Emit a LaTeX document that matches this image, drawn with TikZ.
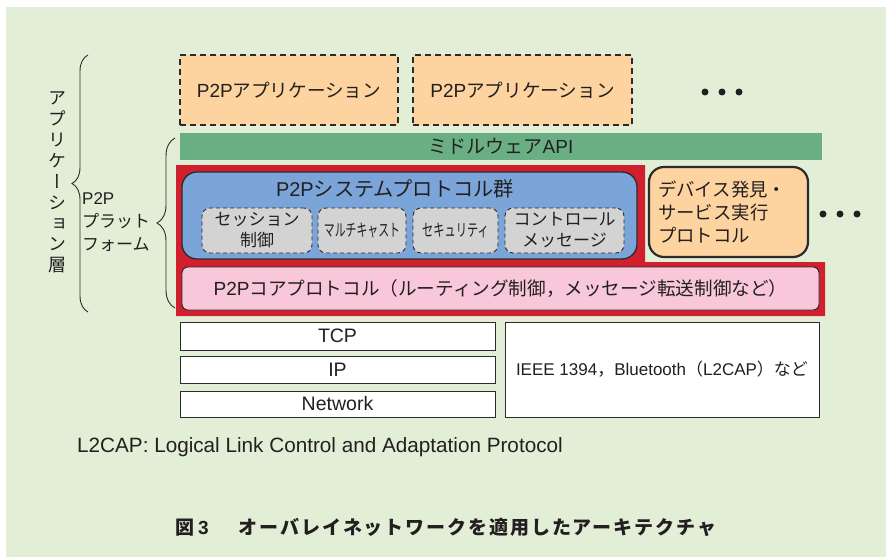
\documentclass[tikz,border=0pt]{standalone}
\usepackage{fontspec}
\usepackage{graphicx}
\setmainfont{Liberation Sans}
\newfontfamily\jp{Noto Sans CJK JP}
\newfontfamily\jpv[RawFeature=+vert]{Noto Sans CJK JP}
\usetikzlibrary{decorations.pathreplacing}
\definecolor{bg}{HTML}{E2EFD6}
\definecolor{txt}{HTML}{231F20}
\definecolor{edge}{HTML}{2B2B2B}
\definecolor{peach}{HTML}{FDD39F}
\definecolor{mwgreen}{HTML}{6AAF84}
\definecolor{redframe}{HTML}{D0202E}
\definecolor{sysblue}{HTML}{7BA5D8}
\definecolor{grayb}{HTML}{D3D3D3}
\definecolor{pinkb}{HTML}{F8C8DA}
\newcommand\fsz[1]{\fontsize{#1pt}{#1pt}\selectfont}
\tikzset{
  every node/.style={text=txt},
  appbox/.style={draw=edge, line width=2pt, dash pattern=on 6pt off 4pt, fill=peach,
    minimum width=218pt, minimum height=70pt, inner sep=0pt},
  dotn/.style={circle, fill=txt, minimum size=7pt, inner sep=0pt},
  graybox/.style={draw=edge, line width=0.9pt, dash pattern=on 4pt off 3pt, fill=grayb,
    rounded corners=8pt, minimum height=45pt, inner sep=0pt, align=center},
  whitebox/.style={draw=edge, line width=0.9pt, fill=white, inner sep=0pt},
  bracestyle/.style={draw=edge, line width=0.9pt, decorate},
}
\begin{document}
\begin{tikzpicture}[x=1pt,y=-1pt]
\useasboundingbox (0,0) rectangle (886,557);
\fill[bg] (6,7) rectangle (886,557);

% application boxes
\node[appbox] (app1) at (289,90) {\fsz{19}P2P{\jp\fsz{18.6}アプリケーション}};
\node[appbox, minimum width=219pt] (app2) at (522.5,90) {\fsz{19}P2P{\jp\fsz{18.6}アプリケーション}};
\node[dotn] (d1) at (705,92) {};
\node[dotn] (d2) at (722,92) {};
\node[dotn] (d3) at (739,92) {};

% middleware API
\node[fill=mwgreen, minimum width=642pt, minimum height=27pt, inner sep=0pt] (mw) at (501,146.5)
  {{\jp\fsz{19}ミドルウェア}\fsz{19}API};

% red frame
\fill[redframe] (176,165) -- (645,165) -- (645,262) -- (825,262) -- (825,316) -- (176,316) -- cycle;

% system protocol group
\node[draw=edge, line width=1.3pt, fill=sysblue, rounded corners=15pt, minimum width=455pt,
  minimum height=87pt, inner sep=0pt] (sys) at (409.5,215.5) {};
\node[inner sep=0pt] (systitle) at (395,189) {\fsz{20}P2P{\jp\fsz{20.2}システムプロトコル群}};
\node[graybox, minimum width=110pt, font={\jp\fontsize{17pt}{21pt}\selectfont}] (g1) at (257,230.5) {セッション\\制御};
\node[graybox, minimum width=88pt] (g2) at (362,230.5) {\jp\fsz{17}\scalebox{0.64}[1]{マルチキャスト}};
\node[graybox, minimum width=85pt] (g3) at (455.5,230.5) {\jp\fsz{17}\scalebox{0.66}[1]{セキュリティ}};
\node[graybox, minimum width=119pt, font={\jp\fontsize{17pt}{21pt}\selectfont}] (g4) at (564.5,230.5) {コントロール\\メッセージ};

% device discovery
\node[draw=edge, line width=2.2pt, fill=peach, rounded corners=15pt, minimum height=90pt,
  text width=141pt, inner xsep=9pt, inner ysep=0pt, align=left,
  font={\jp\fontsize{18.4pt}{23pt}\selectfont}] (dev) at (728.5,212)
  {デバイス発見・\\サービス実行\\プロトコル};
\node[dotn] (e1) at (823,214) {};
\node[dotn] (e2) at (840,214) {};
\node[dotn] (e3) at (857,214) {};

% core protocol
\node[draw=edge, line width=0.9pt, fill=pinkb, rounded corners=6pt, minimum width=637pt,
  minimum height=43pt, inner sep=0pt] (core) at (500.5,288.5)
  {\fsz{19}P2P{\jp\fsz{18.6}コアプロトコル（ルーティング制御，メッセージ転送制御など）}};

% lower layers
\node[whitebox, minimum width=315pt, minimum height=28pt] (tcp) at (337.5,336) {\fsz{19.5}TCP};
\node[whitebox, minimum width=315pt, minimum height=27pt] (ip) at (337.5,370) {\fsz{19.5}IP};
\node[whitebox, minimum width=315pt, minimum height=26pt] (net) at (337.5,404) {\fsz{19.5}Network};
\node[whitebox, minimum width=314pt, minimum height=95pt] (ieee) at (662,369.5)
  {\fsz{17}IEEE 1394{\jp ，}Bluetooth{\jp （}L2CAP{\jp ）など}};

% note and caption
\node[anchor=west, inner sep=0pt] (note) at (77,447)
  {\fsz{20.7}L2CAP: Logical Link Control and Adaptation Protocol};
\node[anchor=west, inner sep=0pt] (cap) at (175,527)
  {\jp\bfseries\fsz{19}図\hspace{4pt}{\rmfamily\bfseries 3}\hspace{30pt}\addfontfeatures{LetterSpace=10}オーバレイネットワークを適用したアーキテクチャ};

% braces and side labels
\coordinate (bA) at (88,312);
\coordinate (bB) at (88,55);
\draw[bracestyle, decoration={brace, amplitude=16pt}] (bA) -- (bB);
\coordinate (sA) at (175,308);
\coordinate (sB) at (175,138);
\draw[bracestyle, decoration={brace, amplitude=18pt}] (sA) -- (sB);
\node[inner sep=0pt, align=center, font={\jpv\fontsize{18pt}{20.9pt}\selectfont}] (applayer) at (57,182.5)
  {ア\\プ\\リ\\ケ\\ー\\シ\\ョ\\ン\\層};
\node[anchor=west, inner sep=0pt, align=left, font={\fontsize{17pt}{23pt}\selectfont}] (plat) at (82,222)
  {P2P\\{\jp プラット}\\{\jp フォーム}};
\end{tikzpicture}
\end{document}
